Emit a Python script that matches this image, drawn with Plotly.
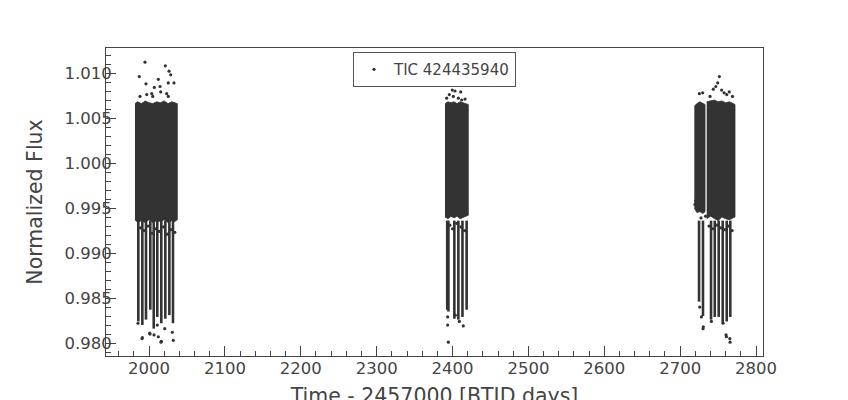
import plotly.graph_objects as go

# light curve of TIC 424435940
target = "TIC 424435940"

# dense core of each observing block: time knots with upper / lower flux envelope
core_time = [
    [1981.5, 1985, 1990, 1995, 2000, 2005, 2010, 2015, 2020, 2025, 2030, 2034, 2037.3],
    [2390.1, 2394, 2398, 2402, 2406, 2410, 2414, 2418, 2420.8],
    [2718.7, 2722, 2726, 2730, 2732.8],
    [2735.0, 2740, 2745, 2750, 2755, 2760, 2765, 2770, 2772.3],
]
core_upper = [
    [1.0066, 1.0068, 1.0066, 1.0069, 1.0067, 1.0066, 1.0068, 1.0067, 1.0069, 1.0066, 1.0068, 1.0067, 1.0066],
    [1.0066, 1.0068, 1.0067, 1.0068, 1.0066, 1.0068, 1.0067, 1.0066, 1.0065],
    [1.0063, 1.0066, 1.0068, 1.0066, 1.0065],
    [1.0068, 1.0069, 1.0070, 1.0068, 1.0069, 1.0067, 1.0068, 1.0066, 1.0065],
]
core_lower = [
    [0.9937, 0.9934, 0.9936, 0.9934, 0.9937, 0.9934, 0.9936, 0.9935, 0.9937, 0.9934, 0.9936, 0.9935, 0.9937],
    [0.9940, 0.9938, 0.9941, 0.9939, 0.9941, 0.9938, 0.9940, 0.9941, 0.9942],
    [0.9950, 0.9945, 0.9946, 0.9944, 0.9946],
    [0.9938, 0.9941, 0.9939, 0.9936, 0.9940, 0.9938, 0.9937, 0.9939, 0.9940],
]

# eclipses: time of each streak and the lowest flux it reaches
eclipse_time = [1985.9, 1991.2, 1996.0, 2001.7, 2006.2, 2010.9, 2016.2, 2021.5, 2026.8, 2031.6,
                2393.0, 2394.6, 2402.4, 2407.7, 2413.1, 2418.6,
                2724.9, 2730.1, 2740.7, 2745.6, 2750.8, 2756.1, 2761.4, 2766.1]
eclipse_bottom = [0.9824, 0.9820, 0.9826, 0.9837, 0.9816, 0.9829, 0.9822, 0.9827, 0.9831, 0.9822,
                  0.9837, 0.9835, 0.9827, 0.9826, 0.9829, 0.9837,
                  0.9846, 0.9830, 0.9826, 0.9829, 0.9829, 0.9822, 0.9824, 0.9829]
eclipse_top = 0.9936

# scattered single points (above the core, between core and eclipses, below eclipses)
point_time = [1994.7, 2021.5, 2026.4, 2028.6, 1987.2, 2012.3, 1996.0, 2007.0, 2014.5, 2025.4,
              2032.9, 2015.4, 2003.6, 1997.0, 1988.1, 2023.3, 2025.4, 2004.9,
              2399.7, 2403.3, 2410.8, 2395.8, 2401.1, 2407.7, 2412.1, 2416.5, 2392.3,
              2751.7, 2749.5, 2743.7, 2754.7, 2764.7, 2729.7, 2725.3, 2739.4, 2761.4, 2747.0, 2758.0, 2769.0,
              1988.5, 1993.5, 1999.0, 2004.0, 2008.5, 2013.5, 2019.0, 2024.0, 2029.0, 2034.0,
              2396.5, 2400.0, 2405.5, 2411.0, 2416.0,
              2719.5, 2720.5, 2727.5, 2733.5, 2738.0, 2743.0, 2748.0, 2753.5, 2759.0, 2763.5, 2768.5,
              1991.2, 2001.3, 2006.6, 2012.3, 2015.8, 2032.0, 1990.8, 2000.9, 2016.2, 1985.5, 2030.7, 2020.7, 2010.9,
              2394.5, 2393.6, 2393.6, 2403.7, 2414.2, 2409.0,
              2760.5, 2765.8, 2730.5, 2725.8, 2728.0, 2730.2, 2741.2, 2756.6, 2761.0, 2765.5]
point_flux = [1.0112, 1.0108, 1.0102, 1.0098, 1.0096, 1.0093, 1.0088, 1.0084, 1.0085, 1.0089,
              1.0089, 1.0079, 1.0077, 1.0076, 1.0074, 1.0077, 1.0074, 1.0074,
              1.0081, 1.0080, 1.0079, 1.0076, 1.0074, 1.0072, 1.0070, 1.0071, 1.0072,
              1.0096, 1.0089, 1.0082, 1.0081, 1.0079, 1.0078, 1.0077, 1.0074, 1.0076, 1.0085, 1.0078, 1.0074,
              0.9928, 0.9925, 0.9930, 0.9922, 0.9927, 0.9924, 0.9929, 0.9921, 0.9926, 0.9923,
              0.9931, 0.9927, 0.9933, 0.9929, 0.9925,
              0.9954, 0.9958, 0.9939, 0.9941, 0.9930, 0.9927, 0.9931, 0.9928, 0.9926, 0.9930, 0.9925,
              0.9806, 0.9810, 0.9809, 0.9807, 0.9801, 0.9803, 0.9805, 0.9811, 0.9802, 0.9822, 0.9812, 0.9816, 0.9820,
              0.9801, 0.9829, 0.9820, 0.9831, 0.9819, 0.9824,
              0.9809, 0.9801, 0.9818, 0.9840, 0.9829, 0.9816, 0.9824, 0.9822, 0.9807, 0.9805]

ink = "#333333"
text_col = "#444444"

fig = go.Figure()

for t, up, lo in zip(core_time, core_upper, core_lower):
    fig.add_trace(go.Scatter(x=t + t[::-1], y=up + lo[::-1], mode="lines", fill="toself",
                             fillcolor=ink, line=dict(width=0.8, color=ink),
                             showlegend=False, hoverinfo="skip"))

ex, ey = [], []
for t, b in zip(eclipse_time, eclipse_bottom):
    ex += [t, t, None]
    ey += [eclipse_top, b, None]
fig.add_trace(go.Scatter(x=ex, y=ey, mode="lines", line=dict(width=2.6, color=ink),
                         showlegend=False, hoverinfo="skip"))

fig.add_trace(go.Scatter(x=point_time, y=point_flux, mode="markers", name=target,
                         marker=dict(size=3.2, color=ink)))

# the page body adds an 8px offset, so the margins are shifted to compensate
fig.update_layout(
    width=848, height=400,
    margin=dict(l=98, r=93, t=40, b=52),
    paper_bgcolor="white", plot_bgcolor="white",
    font=dict(family="DejaVu Sans", size=16.5, color=text_col),
    showlegend=True,
    legend=dict(x=0.5, xanchor="center", y=0.93, yanchor="middle",
                bordercolor="#555555", borderwidth=1, bgcolor="white",
                font=dict(size=15, color=text_col)),
)
fig.update_xaxes(range=[1943.3, 2809.2], dtick=100, showgrid=False, zeroline=False,
                 showline=True, linecolor="#444444", linewidth=1, mirror=True,
                 ticks="inside", ticklen=10, tickcolor="#444444", ticklabelstandoff=-3,
                 minor=dict(ticks="inside", ticklen=5, dtick=20, tickcolor="#444444"),
                 title=dict(text="Time - 2457000 [BTJD days]", font=dict(size=20.5), standoff=11),
                 automargin=False)
fig.update_yaxes(range=[0.97856, 1.01278], dtick=0.005, tickformat=".3f", showgrid=False,
                 zeroline=False, showline=True, linecolor="#444444", linewidth=1, mirror=True,
                 ticks="inside", ticklen=10, tickcolor="#444444", ticklabelstandoff=-10,
                 minor=dict(ticks="inside", ticklen=5, dtick=0.001, tickcolor="#444444"),
                 title=dict(text="Normalized Flux", font=dict(size=20.5), standoff=16),
                 automargin=False)

fig.write_html("out.html")
